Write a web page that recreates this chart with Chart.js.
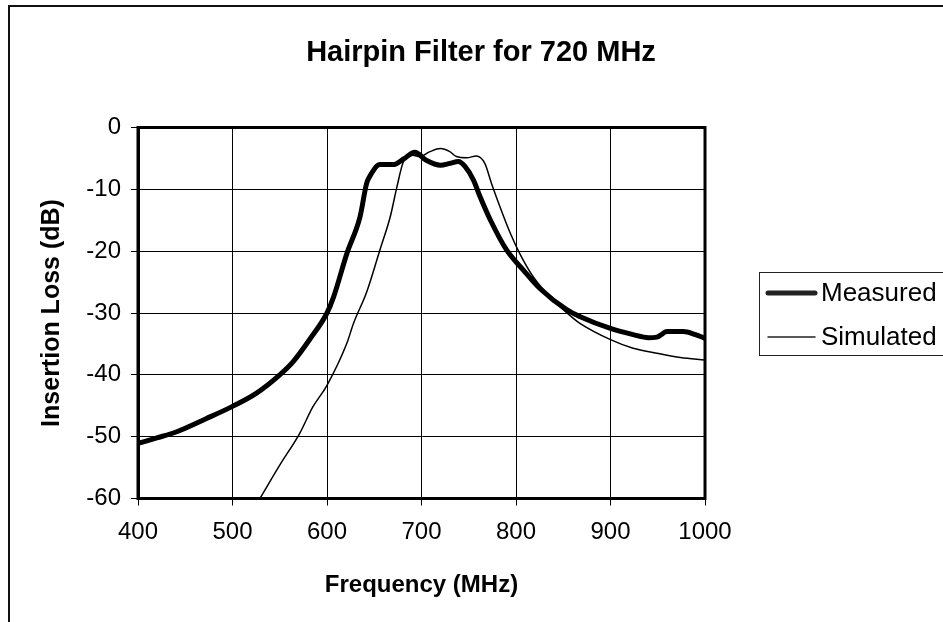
<!DOCTYPE html>
<html>
<head>
<meta charset="utf-8">
<script src="https://cdn.jsdelivr.net/npm/chart.js@4.4.0/dist/chart.umd.min.js"></script>
<style>
  html, body { margin: 0; padding: 0; background: #fff; }
  #wrap { width: 943px; height: 622px; }
</style>
</head>
<body>
<div id="wrap"><canvas id="chart" width="943" height="622"></canvas></div>
<script>
// Hairpin filter response
const measFreq = [400, 420, 441, 472, 500, 525, 550, 564, 582, 600, 607, 621, 635, 642, 646, 656, 670, 681, 693,
  705, 720, 730, 739, 746, 755, 762, 773, 790, 808, 825, 854, 868, 900, 924, 940, 949, 960, 977, 990, 1000];
const measDb = [-51.1, -50.2, -49.2, -47.1, -45.1, -43.0, -40.0, -37.9, -34.2, -30.0, -27.4, -20.4, -14.4, -9.0, -7.7, -6.0, -6.0, -5.1, -4.0,
  -5.3, -6.1, -5.8, -5.5, -6.3, -8.5, -11.2, -15.0, -19.8, -23.1, -26.0, -29.5, -30.6, -32.5, -33.5, -34.0, -33.9, -33.0, -33.0, -33.5, -34.1];

const simFreq = [529, 550, 571, 585, 600, 621, 628, 642, 656, 667, 674, 681, 691, 698, 709, 720, 730, 737, 748, 758,
  767, 774, 783, 794, 804, 818, 836, 861, 868, 900, 924, 949, 974, 1000];
const simDb = [-60.0, -54.6, -49.5, -45.2, -41.7, -34.9, -31.7, -26.6, -19.8, -14.4, -9.6, -5.5, -4.5, -4.7, -3.9, -3.4, -3.9, -4.7, -4.9, -4.6,
  -5.8, -9.0, -12.8, -17.1, -20.4, -24.1, -27.4, -30.9, -31.7, -34.3, -35.7, -36.5, -37.2, -37.6];

const xTicks = [400, 500, 600, 700, 800, 900, 1000];
const yTicks = [0, -10, -20, -30, -40, -50, -60];

const chartTitle = 'Hairpin Filter for 720 MHz';

const toPoints = (xs, ys) => xs.map((x, i) => ({x: x, y: ys[i]}));

const FONT = "'Liberation Sans', Arial, sans-serif";

// outer frame, title, plot frame and legend box
const decor = {
  id: 'decor',
  beforeDraw(chart) {
    const c = chart.ctx;
    c.save();
    c.fillStyle = '#fff';
    c.fillRect(0, 0, chart.width, chart.height);
    c.strokeStyle = '#111';
    c.lineWidth = 2;
    c.strokeRect(9, 6, 1000, 1000);
    c.font = 'bold 29px ' + FONT;
    c.fillStyle = '#000';
    c.textAlign = 'center';
    c.textBaseline = 'middle';
    c.fillText(chartTitle, 481, 53);
    c.restore();
  },
  afterDatasetsDraw(chart) {
    const c = chart.ctx;
    const a = chart.chartArea;
    c.save();
    c.strokeStyle = '#000';
    c.lineWidth = 3;
    c.strokeRect(a.left, a.top, a.right - a.left, a.bottom - a.top);

    // legend
    c.lineWidth = 1;
    c.strokeStyle = '#222';
    c.strokeRect(759.5, 272.5, 300, 83);
    c.font = '26px ' + FONT;
    c.fillStyle = '#000';
    c.textBaseline = 'middle';
    const rows = [293, 337];
    chart.data.datasets.forEach((ds, i) => {
      c.beginPath();
      c.lineWidth = ds.borderWidth;
      c.lineCap = 'round';
      c.moveTo(768, rows[i]);
      c.lineTo(815, rows[i]);
      c.stroke();
      c.fillText(ds.label, 821, rows[i] + 1);
    });
    c.restore();
  }
};

new Chart(document.getElementById('chart'), {
  type: 'line',
  data: {
    datasets: [
      {
        label: 'Measured',
        data: toPoints(measFreq, measDb),
        borderColor: '#000',
        borderWidth: 5,
        pointRadius: 0,
        tension: 0.3,
        cubicInterpolationMode: 'monotone',
        borderJoinStyle: 'round'
      },
      {
        label: 'Simulated',
        data: toPoints(simFreq, simDb),
        borderColor: '#000',
        borderWidth: 1.5,
        pointRadius: 0,
        tension: 0.3,
        cubicInterpolationMode: 'monotone'
      }
    ]
  },
  options: {
    responsive: false,
    animation: false,
    layout: { padding: { left: 20, right: 238, top: 127.5, bottom: 0 } },
    plugins: {
      legend: { display: false },
      tooltip: { enabled: false },
      title: { display: false }
    },
    scales: {
      x: {
        type: 'linear',
        min: 400,
        max: 1000,
        afterBuildTicks: s => { s.ticks = xTicks.map(v => ({value: v})); },
        afterFit: s => { s.height = 123.5; },
        ticks: { color: '#000', font: { family: FONT, size: 24 }, padding: 12, callback: v => String(v) },
        grid: { color: '#000', lineWidth: 1, tickLength: 7 },
        border: { color: '#000', width: 3 },
        title: {
          display: true,
          text: 'Frequency (MHz)',
          color: '#000',
          font: { family: FONT, size: 24, weight: 'bold' },
          padding: { top: 0, bottom: 22 }
        }
      },
      y: {
        min: -60,
        max: 0,
        afterBuildTicks: s => { s.ticks = yTicks.map(v => ({value: v})); },
        afterFit: s => { s.width = 118; },
        ticks: { color: '#000', font: { family: FONT, size: 24 }, padding: 10 },
        grid: { color: '#000', lineWidth: 1, tickLength: 7 },
        border: { color: '#000', width: 3 },
        title: {
          display: true,
          text: 'Insertion Loss (dB)',
          color: '#000',
          font: { family: FONT, size: 25, weight: 'bold' },
          padding: { top: 17, bottom: 0 }
        }
      }
    }
  },
  plugins: [decor]
});
</script>
</body>
</html>
